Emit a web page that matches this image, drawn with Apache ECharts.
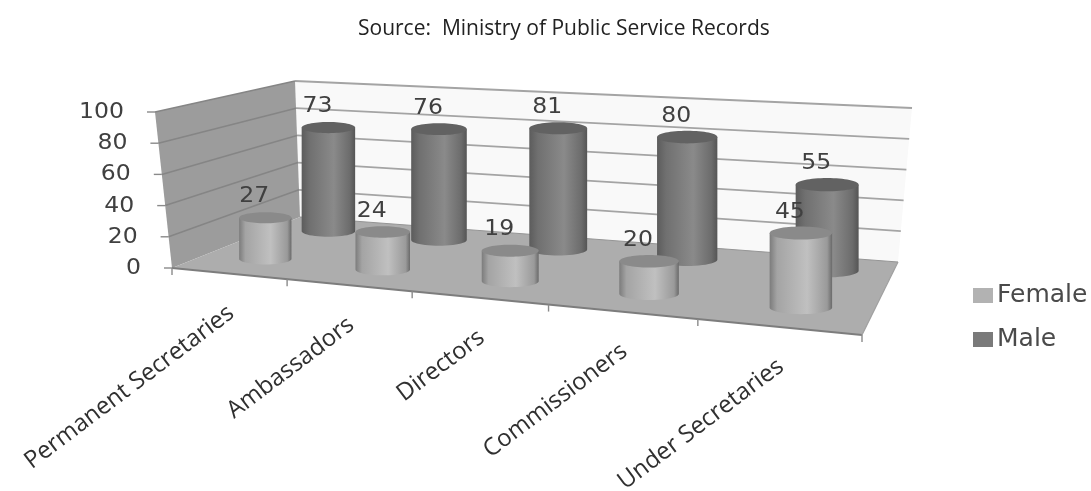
<!DOCTYPE html>
<html><head><meta charset="utf-8">
<style>html,body{margin:0;padding:0;background:#fff}#c{width:1091px;height:491px}</style>
<script src="https://cdn.jsdelivr.net/npm/echarts@6/dist/echarts.min.js"></script>
</head><body><div id="c"></div>
<script>
const categories = ['Permanent Secretaries','Ambassadors','Directors','Commissioners','Under Secretaries'];
const femaleValues = [27,24,19,20,45];
const maleValues = [73,76,81,80,55];
const valueTicks = [0,20,40,60,80,100];

// Perspective frame of the 3D box
const GRID = {left:172, top:112, width:690, height:156};
const floorQuad = [[172,268],[862,335],[898,262],[300,217]];
const ceilQuad  = [[155,112],[875,165],[912,108],[295,81]];
function homography(q){
  const [x0,y0]=q[0],[x1,y1]=q[1],[x2,y2]=q[2],[x3,y3]=q[3];
  const dx1=x1-x2,dx2=x3-x2,sx=x0-x1+x2-x3,dy1=y1-y2,dy2=y3-y2,sy=y0-y1+y2-y3;
  const den=dx1*dy2-dx2*dy1,g=(sx*dy2-dx2*sy)/den,h=(dx1*sy-sx*dy1)/den;
  const a=x1-x0+g*x1,b=x3-x0+h*x3,d=y1-y0+g*y1,e=y3-y0+h*y3;
  return (u,v)=>{const w=g*u+h*v+1;return [(a*u+b*v+x0)/w,(d*u+e*v+y0)/w];};
}
const Hf=homography(floorQuad),Hc=homography(ceilQuad);
function P(u,v,w){const a=Hf(u,v),b=Hc(u,v);return [a[0]+(b[0]-a[0])*w,a[1]+(b[1]-a[1])*w];}
const uOf=x=>(x-GRID.left)/GRID.width;
const wOf=(api,val)=>(api.coord([0,0])[1]-api.coord([0,val])[1])/GRID.height;

const NUM_FONT='"DejaVu Sans"', NUM_SIZE=21, NUM_COLOR='#404040';
function numText(x,y,t,align){
  return {type:'text',x,y,scaleX:1.12,z2:50,silent:true,
    style:{x:0,y:0,text:String(t),align:align||'center',verticalAlign:'middle',font:NUM_SIZE+'px '+NUM_FONT,fill:NUM_COLOR}};
}
function line(a,b,color,width){
  return {type:'line',silent:true,shape:{x1:a[0],y1:a[1],x2:b[0],y2:b[1]},style:{stroke:color,lineWidth:width||1.5}};
}
function frame(params,api){
  const ch=[];
  const poly=(pts,fill)=>({type:'polygon',silent:true,shape:{points:pts},style:{fill}});
  ch.push(poly([P(0,1,0),P(1,1,0),P(1,1,1),P(0,1,1)],'#f9f9f9'));
  ch.push(poly([P(0,0,0),P(0,1,0),P(0,1,1),P(0,0,1)],'#9c9c9c'));
  valueTicks.forEach(t=>{
    const w=wOf(api,t);
    if(t>0){
      ch.push(line(P(0,1,w),P(1,1,w),'#a4a4a4',1.8));
      ch.push(line(P(0,0,w),P(0,1,w),'#858585',1.6));
    }
    const p=P(0,0,w);
    ch.push(line([p[0]-8,p[1]],p,'#8a8a8a',1.4));
    ch.push(numText(p[0]-31,p[1]+0.5,t,'right'));
  });
  ch.push(poly([P(0,0,0),P(1,0,0),P(1,1,0),P(0,1,0)],'#adadad'));
  ch.push(line(P(0,0,0),P(1,0,0),'#7d7d7d',2));
  ch.push(line(P(1,0,0),P(1,1,0),'#a0a0a0',1.2));
  ch.push(line(P(0,1,0),P(1,1,0),'#959595',1.2));
  categories.forEach((c,i)=>{
    const u0=i/categories.length,p=P(u0,0,0);
    ch.push(line(p,[p[0],p[1]+7],'#8a8a8a',1.4));
  });
  const pe=P(1,0,0);ch.push(line(pe,[pe[0],pe[1]+7],'#8a8a8a',1.4));
  categories.forEach((c,i)=>{
    const x=api.coord([i,0])[0],p=P(uOf(x),0,0);
    ch.push({type:'text',x:p[0]+3,y:p[1]+37,rotation:37*Math.PI/180,silent:true,
      style:{x:0,y:0,text:c,align:'right',verticalAlign:'middle',font:'24px "Open Sans"',fill:'#303030'}});
  });
  return {type:'group',children:ch};
}
function cylinder(depth,off0,off1,body,topFill){
  return function(params,api){
    const i=api.value(0),val=api.value(1);
    const x=api.coord([i,val])[0],u0=uOf(x),u=u0+off0+off1*u0,w=wOf(api,val);
    const b=P(u,depth,0),t=[b[0],P(u,depth,w)[1]];
    const rx=26+0.0095*(b[0]-250),ry=rx*0.21;
    const pts=[[t[0]-rx,t[1]]];
    for(let k=0;k<=24;k++){const a=Math.PI-k*Math.PI/24;pts.push([b[0]+rx*Math.cos(a),b[1]+ry*Math.sin(a)]);}
    pts.push([t[0]+rx,t[1]]);
    return {type:'group',children:[
      {type:'polygon',shape:{points:pts},style:{fill:{type:'linear',x:0,y:0,x2:1,y2:0,colorStops:body}}},
      {type:'ellipse',shape:{cx:t[0],cy:t[1],rx,ry},style:{fill:topFill}},
      numText(t[0]-11,t[1]-21,val)
    ]};
  };
}
const femaleBody=[{offset:0,color:'#7c7c7c'},{offset:.12,color:'#a4a4a4'},{offset:.6,color:'#c0c0c0'},{offset:.92,color:'#9a9a9a'},{offset:1,color:'#6a6a6a'}];
const maleBody=[{offset:0,color:'#5c5c5c'},{offset:.15,color:'#707070'},{offset:.6,color:'#8a8a8a'},{offset:.9,color:'#6c6c6c'},{offset:1,color:'#555'}];

const chart=echarts.init(document.getElementById('c'),null,{renderer:'canvas'});
chart.setOption({
  animation:false,
  backgroundColor:'#fff',
  title:{text:'Source:  Ministry of Public Service Records',left:353,top:14,
    textStyle:{fontFamily:'"Open Sans"',fontSize:21,fontWeight:'normal',color:'#222'}},
  legend:{data:['Female','Male'],orient:'vertical',left:968,top:278,itemWidth:20,itemHeight:15,itemGap:19,icon:'rect',
    textStyle:{fontFamily:'"DejaVu Sans"',fontSize:25,color:'#4a4a4a',padding:[0,0,0,-1]}},
  grid:GRID,
  xAxis:{type:'category',data:categories,show:false},
  yAxis:{type:'value',min:0,max:100,interval:20,show:false},
  series:[
    {type:'custom',name:'frame',silent:true,clip:false,renderItem:frame,data:[[0,0]],z:1},
    {type:'custom',name:'Male',clip:false,renderItem:cylinder(0.78,0.002,0.012,maleBody,'#626262'),
      data:maleValues.map((v,i)=>[i,v]),itemStyle:{color:'#7a7a7a'},z:2},
    {type:'custom',name:'Female',clip:false,renderItem:cylinder(0.25,0.004,0.008,femaleBody,'#8a8a8a'),
      data:femaleValues.map((v,i)=>[i,v]),itemStyle:{color:'#b2b2b2'},z:3}
  ]
});
</script></body></html>
